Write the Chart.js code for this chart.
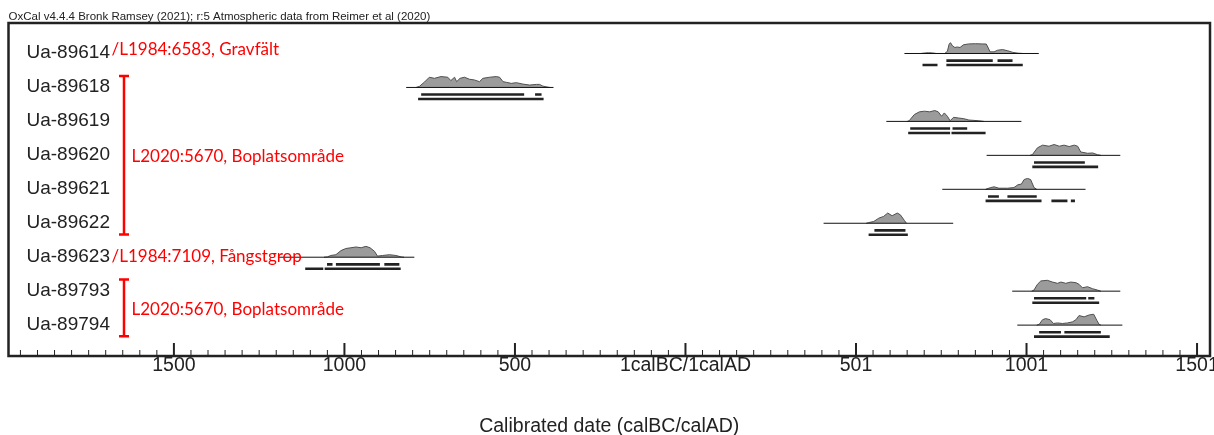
<!DOCTYPE html>
<html>
<head>
<meta charset="utf-8">
<script src="https://cdn.jsdelivr.net/npm/chart.js@4.4.1/dist/chart.umd.min.js"></script>
<style>
  html, body { margin: 0; padding: 0; background: #fff; }
</style>
</head>
<body>
<canvas id="chart" width="1214" height="435"></canvas>
<script>
const samples = ['Ua-89614', 'Ua-89618', 'Ua-89619', 'Ua-89620', 'Ua-89621', 'Ua-89622', 'Ua-89623', 'Ua-89793', 'Ua-89794'];

// calendar years, BC negative (1calBC/1calAD = 0)
const tickValues = [-1500, -1000, -500, 0, 500, 1000, 1500];
const tickLabels = ['1500', '1000', '500', '1calBC/1calAD', '501', '1001', '1501'];

// extent of the thin line under each distribution
const spans = [[642, 1036], [-819, -387], [589, 985], [883, 1275], [753, 1173], [405, 785], [-1195, -795], [958, 1275], [973, 1281]];

// probability curves: [year, relative probability]
const curve89614 = [[690, 0], [700, 0.04], [712, 0.07], [725, 0.05], [735, 0], [760, 0], [768, 0.2], [773, 0.85], [777, 1.0], [783, 0.7], [790, 0.55], [797, 0.6], [805, 0.55], [815, 0.8], [830, 0.88], [850, 0.9], [870, 0.88], [882, 0.87], [888, 0.5], [893, 0.15], [905, 0.15], [915, 0.3], [930, 0.36], [945, 0.25], [960, 0.1], [975, 0.03], [990, 0]];
const curve89618 = [[-790, 0], [-780, 0.1], [-765, 0.5], [-751, 0.94], [-736, 0.84], [-717, 1.0], [-697, 0.94], [-688, 0.63], [-677, 0.94], [-671, 0.53], [-661, 0.84], [-648, 0.94], [-633, 0.75], [-619, 0.69], [-604, 0.53], [-594, 0.84], [-574, 0.94], [-555, 1.0], [-545, 0.94], [-535, 0.53], [-525, 0.47], [-511, 0.375], [-496, 0.44], [-477, 0.31], [-457, 0.22], [-437, 0.28], [-428, 0.28], [-418, 0.12], [-408, 0.06], [-398, 0]];
const curve89619 = [[650, 0], [656, 0.06], [671, 0.63], [686, 0.88], [701, 0.94], [716, 0.88], [731, 1.0], [741, 0.88], [751, 0.47], [759, 0.78], [768, 0.47], [776, 0.06], [786, 0.375], [801, 0.31], [816, 0.25], [831, 0.125], [860, 0.06], [875, 0]];
const curve89620 = [[1010, 0], [1017, 0.06], [1032, 0.69], [1047, 0.94], [1066, 0.84], [1081, 1.0], [1096, 0.84], [1110, 0.94], [1125, 0.81], [1140, 0.94], [1150, 0.84], [1159, 0.31], [1179, 0.19], [1194, 0.22], [1208, 0.06], [1218, 0]];
const curve89621 = [[880, 0], [895, 0.16], [905, 0.23], [919, 0.1], [944, 0.1], [963, 0.16], [975, 0.42], [985, 0.48], [993, 0.9], [1003, 1.0], [1012, 0.9], [1022, 0.16], [1030, 0]];
const curve89622 = [[530, 0], [537, 0.06], [552, 0.16], [567, 0.47], [581, 0.63], [593, 0.94], [606, 0.69], [621, 0.94], [630, 0.78], [642, 0.25], [648, 0]];
const curve89623 = [[-1060, 0], [-1050, 0.03], [-1040, 0.16], [-1025, 0.23], [-1010, 0.61], [-996, 0.8], [-981, 0.87], [-966, 0.94], [-951, 0.87], [-937, 1.0], [-925, 0.87], [-912, 0.55], [-903, 0.1], [-888, 0.16], [-868, 0.23], [-849, 0.16], [-834, 0.03], [-825, 0]];
const curve89793 = [[1015, 0], [1022, 0.1], [1032, 0.63], [1042, 0.94], [1061, 1.0], [1076, 0.84], [1091, 0.72], [1101, 0.84], [1115, 0.72], [1130, 0.84], [1145, 0.78], [1154, 0.63], [1164, 0.31], [1179, 0.41], [1194, 0.22], [1208, 0.1], [1218, 0]];
const curve89794 = [[1030, 0], [1037, 0.06], [1047, 0.5], [1056, 0.6], [1069, 0.5], [1079, 0.15], [1091, 0.2], [1105, 0.15], [1120, 0.2], [1135, 0.3], [1145, 0.5], [1154, 0.88], [1169, 0.76], [1184, 0.94], [1197, 1.0], [1206, 0.45], [1213, 0.06], [1218, 0]];
const curves = [curve89614, curve89618, curve89619, curve89620, curve89621, curve89622, curve89623, curve89793, curve89794];

// 68.2% and 95.4% ranges
const ranges68 = [
  [[765, 901], [915, 959]],
  [[-775, -473], [-441, -422]],
  [[659, 776], [783, 826]],
  [[1022, 1171]],
  [[887, 919], [944, 1030]],
  [[554, 645]],
  [[-1051, -1035], [-1025, -896], [-883, -839]],
  [[1022, 1175], [1181, 1199]],
  [[1037, 1101], [1111, 1218]]
];
const ranges95 = [
  [[695, 739], [765, 989]],
  [[-784, -416]],
  [[653, 776], [780, 880]],
  [[1017, 1210]],
  [[880, 1044], [1073, 1120], [1130, 1142]],
  [[537, 652]],
  [[-1115, -1062], [-1058, -835]],
  [[1017, 1213]],
  [[1022, 1244]]
];

const singleNotes = [[0, '/L1984:6583, Gravfält'], [6, '/L1984:7109, Fångstgrop']];
const groupNotes = [[1, 5, 'L2020:5670, Boplatsområde'], [7, 8, 'L2020:5670, Boplatsområde']];

Chart.defaults.font.family = '"Liberation Sans", Arial, sans-serif';

const datasets = [];
samples.forEach((name, i) => {
  datasets.push({
    data: spans[i].map((v) => ({ x: v, y: i })),
    borderColor: '#111', borderWidth: 1
  });
  datasets.push({
    data: curves[i].map(([yr, p]) => ({ x: yr, y: i - p * 0.32 })),
    fill: { value: i },
    backgroundColor: '#9b9b9b', borderColor: '#505050', borderWidth: 1
  });
  ranges68[i].forEach((r) => datasets.push({
    data: r.map((v) => ({ x: v, y: i + 0.21 })),
    borderColor: '#222', borderWidth: 2.6
  }));
  ranges95[i].forEach((r) => datasets.push({
    data: r.map((v) => ({ x: v, y: i + 0.34 })),
    borderColor: '#222', borderWidth: 2.6
  }));
});

const oxcalDecor = {
  id: 'oxcalDecor',
  afterDatasetsDraw(chart) {
    const { ctx, chartArea: a, scales: { x, y } } = chart;
    ctx.save();

    // sample names
    ctx.fillStyle = '#222';
    ctx.font = '19px "Liberation Sans", Arial, sans-serif';
    ctx.textBaseline = 'middle';
    ctx.textAlign = 'left';
    samples.forEach((s, i) => ctx.fillText(s, a.left + 18, y.getPixelForValue(i) - 0.5));

    // red notes
    ctx.fillStyle = '#f00';
    ctx.strokeStyle = '#f00';
    ctx.font = '17px Lato, "Open Sans", sans-serif';
    singleNotes.forEach(([row, text]) => {
      ctx.fillText(text, a.left + 103, y.getPixelForValue(row) - (row === 0 ? 4 : 1));
    });
    ctx.lineWidth = 2.5;
    groupNotes.forEach(([r0, r1, text]) => {
      const bx = a.left + 115.5;
      const top = y.getPixelForValue(r0 - 0.34);
      const bot = y.getPixelForValue(r1 + 0.33);
      ctx.beginPath();
      ctx.moveTo(bx, top); ctx.lineTo(bx, bot);
      ctx.moveTo(bx - 5, top); ctx.lineTo(bx + 5, top);
      ctx.moveTo(bx - 5, bot); ctx.lineTo(bx + 5, bot);
      ctx.stroke();
      ctx.fillText(text, a.left + 123, y.getPixelForValue((r0 + r1) / 2) + 1);
    });

    // inward ticks every 50 years
    ctx.strokeStyle = '#222';
    for (let v = -1950; v <= x.max; v += 50) {
      const px = x.getPixelForValue(v);
      const major = v % 500 === 0;
      ctx.lineWidth = major ? 2 : 1;
      ctx.beginPath();
      ctx.moveTo(px, a.bottom);
      ctx.lineTo(px, a.bottom - (major ? 13 : 6));
      ctx.stroke();
    }

    // frame
    ctx.lineWidth = 2.5;
    ctx.strokeRect(a.left, a.top, a.right - a.left, a.bottom - a.top);
    ctx.restore();
  }
};

new Chart(document.getElementById('chart'), {
  type: 'line',
  data: { datasets },
  options: {
    responsive: false,
    animation: false,
    events: [],
    layout: { padding: { left: 8.5, right: 4, top: 0, bottom: 0 } },
    elements: { point: { radius: 0 }, line: { tension: 0, borderCapStyle: 'butt' } },
    plugins: {
      legend: { display: false },
      tooltip: { enabled: false },
      title: {
        display: true,
        text: 'OxCal v4.4.4 Bronk Ramsey (2021); r:5 Atmospheric data from Reimer et al (2020)',
        align: 'start',
        color: '#222',
        font: { size: 11.5, weight: 'normal', lineHeight: 1.0 },
        padding: { top: 11.5, bottom: 0 }
      }
    },
    scales: {
      x: {
        type: 'linear',
        min: -1985,
        max: 1538,
        grid: { display: false, drawTicks: false },
        border: { display: false },
        afterBuildTicks: (axis) => { axis.ticks = tickValues.map((v) => ({ value: v })); },
        afterFit: (axis) => { axis.paddingLeft = 0; axis.paddingRight = 0; },
        ticks: {
          autoSkip: false,
          maxRotation: 0,
          padding: 0,
          color: '#222',
          font: { size: 19.5, lineHeight: 1.0 },
          callback: (v, idx) => tickLabels[idx]
        },
        title: {
          display: true,
          text: 'Calibrated date (calBC/calAD)',
          color: '#222',
          font: { size: 19.5, lineHeight: 0.83 },
          padding: { top: 43.3, bottom: 0 }
        }
      },
      y: {
        type: 'linear',
        reverse: true,
        min: -0.898,
        max: 8.91,
        display: false
      }
    }
  },
  plugins: [oxcalDecor]
});
</script>
</body>
</html>
